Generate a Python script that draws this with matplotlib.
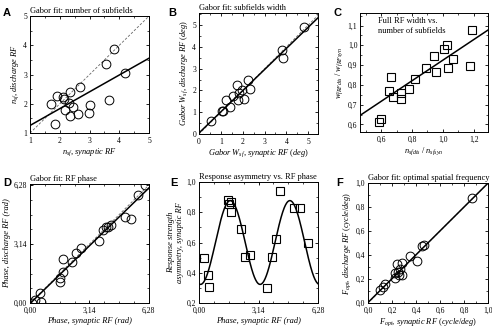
import numpy as np
import matplotlib
matplotlib.use('Agg')
import matplotlib.pyplot as plt
from matplotlib.ticker import MultipleLocator, FuncFormatter, FixedLocator

plt.rcParams['font.family'] = ['Liberation Serif', 'DejaVu Serif']
plt.rcParams['mathtext.fontset'] = 'custom'
plt.rcParams['mathtext.rm'] = 'Liberation Serif'
plt.rcParams['mathtext.it'] = 'Liberation Serif:italic'
plt.rcParams['font.size'] = 6

# A: number of subfields
a_syn = [3.82, 3.54, 4.20, 2.69, 2.34, 1.90, 2.10, 2.14, 1.69, 2.30, 2.19, 2.45, 2.34, 2.62, 3.02, 2.98, 3.67, 1.83]
a_dis = [3.87, 3.35, 3.05, 2.56, 2.41, 2.26, 2.23, 2.18, 2.00, 2.02, 1.80, 1.89, 1.57, 1.66, 1.97, 1.70, 2.14, 1.30]
a_fit = (0.575, 0.685)

# B: subfield width
b_syn = [4.80, 3.78, 3.84, 2.22, 1.72, 2.34, 1.96, 1.84, 2.07, 1.78, 1.57, 1.23, 1.43, 1.08, 1.04, 0.56]
b_dis = [4.92, 3.85, 3.48, 2.49, 2.26, 2.08, 2.03, 1.88, 1.60, 1.54, 1.75, 1.54, 1.26, 1.08, 1.05, 0.60]
b_fit = (0.97, 0.05)

# C: full RF width vs number of subfields
c_n = [1.192, 1.025, 1.008, 0.943, 1.068, 1.175, 1.034, 0.889, 0.956, 0.821, 0.661, 0.780, 0.726, 0.648, 0.676, 0.730, 0.596, 0.587]
c_w = [1.078, 1.002, 0.980, 0.947, 0.930, 0.895, 0.886, 0.886, 0.866, 0.832, 0.841, 0.781, 0.759, 0.768, 0.739, 0.726, 0.629, 0.610]
c_fit = (0.52, 0.405)

# D: RF phase
d_syn = [6.07, 5.74, 5.04, 5.35, 4.30, 4.12, 4.03, 3.86, 3.63, 2.71, 2.45, 2.22, 1.74, 1.74, 1.60, 1.60, 0.51, 0.56, 0.25, 0.10]
d_dis = [6.27, 5.76, 4.61, 4.49, 4.17, 4.08, 4.03, 3.90, 3.32, 2.93, 2.67, 2.19, 2.35, 1.64, 1.34, 1.11, 0.55, 0.07, 0.16, 0.00]
d_fit = (0.98, -0.03)

# E: response asymmetry vs phase
e_phase = [0.28, 0.49, 0.53, 1.55, 1.71, 1.58, 1.71, 2.24, 2.43, 2.68, 3.61, 3.87, 4.08, 4.26, 5.01, 5.31, 5.74]
e_asym = [0.498, 0.383, 0.309, 0.880, 0.871, 0.853, 0.800, 0.687, 0.503, 0.516, 0.298, 0.505, 0.620, 0.938, 0.825, 0.825, 0.598]
e_fit = (0.60, 0.277, 0.08)  # mean, amplitude, phase shift

# F: optimal spatial frequency
f_syn = [0.870, 0.469, 0.452, 0.350, 0.406, 0.287, 0.240, 0.268, 0.221, 0.249, 0.287, 0.260, 0.221, 0.138, 0.121, 0.102]
f_dis = [0.872, 0.486, 0.473, 0.389, 0.347, 0.333, 0.325, 0.285, 0.249, 0.260, 0.235, 0.230, 0.207, 0.157, 0.137, 0.109]
f_fit = (0.995, 0.004)

comma = FuncFormatter(lambda v, p: ('%.1f' % v).replace('.', ','))
comma2 = FuncFormatter(lambda v, p: ('%.2f' % v).replace('.', ','))

fig = plt.figure(figsize=(4.92, 3.27), dpi=100)

def setup(ax):
    ax.tick_params(which='both', direction='in', top=True, right=True, labelsize=5.5, pad=2)
    ax.tick_params(axis='x', which='major', pad=3)
    ax.tick_params(which='major', length=2.5, width=0.6)
    ax.tick_params(which='minor', length=1.5, width=0.5)
    for s in ax.spines.values():
        s.set_linewidth(0.7)

circ = dict(ls='none', marker='o', mfc='none', mec='k', ms=6.3, mew=0.7)
sq = dict(ls='none', marker='s', mfc='none', mec='k', ms=5.5, mew=0.8)

# A
ax = fig.add_axes([0.061, 0.593, 0.242, 0.358])
setup(ax)
x = np.array([1, 5])
ax.plot(x, x, ls=(0, (3, 2)), color='0.4', lw=0.6)
ax.plot(x, a_fit[0] * x + a_fit[1], color='k', lw=1.1)
ax.plot(a_syn, a_dis, **circ)
ax.set_xlim(1, 5); ax.set_ylim(1, 5)
ax.xaxis.set_major_locator(MultipleLocator(1)); ax.xaxis.set_minor_locator(MultipleLocator(0.5))
ax.yaxis.set_major_locator(MultipleLocator(1)); ax.yaxis.set_minor_locator(MultipleLocator(0.5))
ax.set_title('Gabor fit: number of subfields', loc='left', fontsize=6, pad=2)
ax.set_xlabel('$n_{sf}$, $\\it{synaptic\\ RF}$', fontsize=6, labelpad=1)
ax.set_ylabel('$n_{sf}$, $\\it{discharge\\ RF}$', fontsize=6, labelpad=2)

# B
ax = fig.add_axes([0.4045, 0.590, 0.242, 0.370])
setup(ax)
x = np.array([0, 5.45])
ax.plot(x, x, ls=(0, (3, 2)), color='0.4', lw=0.6)
ax.plot(x, b_fit[0] * x + b_fit[1], color='k', lw=1.1)
ax.plot(b_syn, b_dis, **circ)
ax.set_xlim(0, 5.45); ax.set_ylim(0, 5.55)
ax.xaxis.set_major_locator(MultipleLocator(1)); ax.xaxis.set_minor_locator(MultipleLocator(0.5))
ax.yaxis.set_major_locator(MultipleLocator(1)); ax.yaxis.set_minor_locator(MultipleLocator(0.5))
ax.set_title('Gabor fit: subfields width', loc='left', fontsize=6, pad=2)
ax.set_xlabel('$\\it{Gabor}$ $W_{sf}$, $\\it{synaptic\\ RF\\ (deg)}$', fontsize=6, labelpad=1)
ax.set_ylabel('$\\it{Gabor}$ $W_{sf}$, $\\it{discharge\\ RF\\ (deg)}$', fontsize=6, labelpad=2)

# C
ax = fig.add_axes([0.732, 0.596, 0.260, 0.364])
setup(ax)
x = np.array([0.463, 1.293])
ax.plot(x, c_fit[0] * x + c_fit[1], color='k', lw=1.1)
ax.plot(c_n, c_w, **sq)
ax.set_xlim(0.463, 1.293); ax.set_ylim(0.561, 1.163)
ax.xaxis.set_major_locator(MultipleLocator(0.2)); ax.xaxis.set_minor_locator(MultipleLocator(0.1))
ax.yaxis.set_major_locator(MultipleLocator(0.1)); ax.yaxis.set_minor_locator(MultipleLocator(0.05))
ax.xaxis.set_major_formatter(comma); ax.yaxis.set_major_formatter(comma)
ax.text(0.14, 0.97, 'Full RF width vs.\nnumber of subfields', transform=ax.transAxes,
        fontsize=6, va='top', ha='left', linespacing=1.4)
ax.set_xlabel('$n_{sfdis}$ / $n_{sfsyn}$', fontsize=6, labelpad=1)
ax.set_ylabel('$w_{fRFdis}$ / $w_{fRFsyn}$', fontsize=6, labelpad=2)

# D
ax = fig.add_axes([0.061, 0.0734, 0.242, 0.364])
setup(ax)
x = np.array([0, 6.3])
ax.plot(x, x, ls=(0, (3, 2)), color='0.4', lw=0.6)
ax.plot(x, d_fit[0] * x + d_fit[1], color='k', lw=1.1)
ax.plot(d_syn, d_dis, **circ)
ax.set_xlim(0, 6.3); ax.set_ylim(0, 6.35)
ax.xaxis.set_major_locator(FixedLocator([0, 3.14, 6.28])); ax.xaxis.set_minor_locator(MultipleLocator(np.pi / 4))
ax.yaxis.set_major_locator(FixedLocator([0, 3.14, 6.28])); ax.yaxis.set_minor_locator(MultipleLocator(np.pi / 4))
ax.xaxis.set_major_formatter(comma2); ax.yaxis.set_major_formatter(comma2)
ax.set_title('Gabor fit: RF phase', loc='left', fontsize=6, pad=2)
ax.set_xlabel('Phase, synaptic RF (rad)', fontsize=6, style='italic', labelpad=1)
ax.set_ylabel('Phase, discharge RF (rad)', fontsize=6, style='italic', labelpad=2)

# E
ax = fig.add_axes([0.4045, 0.0734, 0.242, 0.370])
setup(ax)
xs = np.linspace(0, 6.28, 300)
ax.plot(xs, e_fit[0] - e_fit[1] * np.cos(2 * (xs - e_fit[2])), color='k', lw=1.1)
ax.plot(e_phase, e_asym, **sq)
ax.set_xlim(0, 6.28); ax.set_ylim(0.2, 1.0)
ax.xaxis.set_major_locator(FixedLocator([0, 3.14, 6.28])); ax.xaxis.set_minor_locator(MultipleLocator(np.pi / 4))
ax.yaxis.set_major_locator(MultipleLocator(0.2)); ax.yaxis.set_minor_locator(MultipleLocator(0.1))
ax.xaxis.set_major_formatter(comma2); ax.yaxis.set_major_formatter(comma)
ax.set_title('Response asymmetry vs. RF phase', loc='left', fontsize=6, pad=2)
ax.set_xlabel('Phase, synaptic RF (rad)', fontsize=6, style='italic', labelpad=1)
ax.set_ylabel('Response strength\nasymmetry, synaptic RF', fontsize=6, style='italic', labelpad=2)

# F
ax = fig.add_axes([0.748, 0.0734, 0.244, 0.367])
setup(ax)
x = np.array([0, 1])
ax.plot(x, x, ls=(0, (3, 2)), color='0.4', lw=0.6)
ax.plot(x, f_fit[0] * x + f_fit[1], color='k', lw=1.1)
ax.plot(f_syn, f_dis, **circ)
ax.set_xlim(0, 1); ax.set_ylim(0, 1)
ax.xaxis.set_major_locator(MultipleLocator(0.2)); ax.xaxis.set_minor_locator(MultipleLocator(0.1))
ax.yaxis.set_major_locator(MultipleLocator(0.2)); ax.yaxis.set_minor_locator(MultipleLocator(0.1))
ax.xaxis.set_major_formatter(comma); ax.yaxis.set_major_formatter(comma)
ax.set_title('Gabor fit: optimal spatial frequency', loc='left', fontsize=6, pad=2)
ax.set_xlabel('$F_{opt}$, $\\it{synaptic\\ RF\\ (cycle/deg)}$', fontsize=6, labelpad=1)
ax.set_ylabel('$F_{opt}$, $\\it{discharge\\ RF\\ (cycle/deg)}$', fontsize=6, labelpad=2)

# panel letters
for lab, px, py in [('A', 3, 13), ('B', 168, 13), ('C', 333, 13),
                    ('D', 3, 183), ('E', 170, 183), ('F', 336, 183)]:
    fig.text(px / 492, 1 - py / 327, lab, fontsize=8, fontweight='bold',
             family='Liberation Sans', va='center', ha='left')

fig.savefig('out.png', dpi=100)
